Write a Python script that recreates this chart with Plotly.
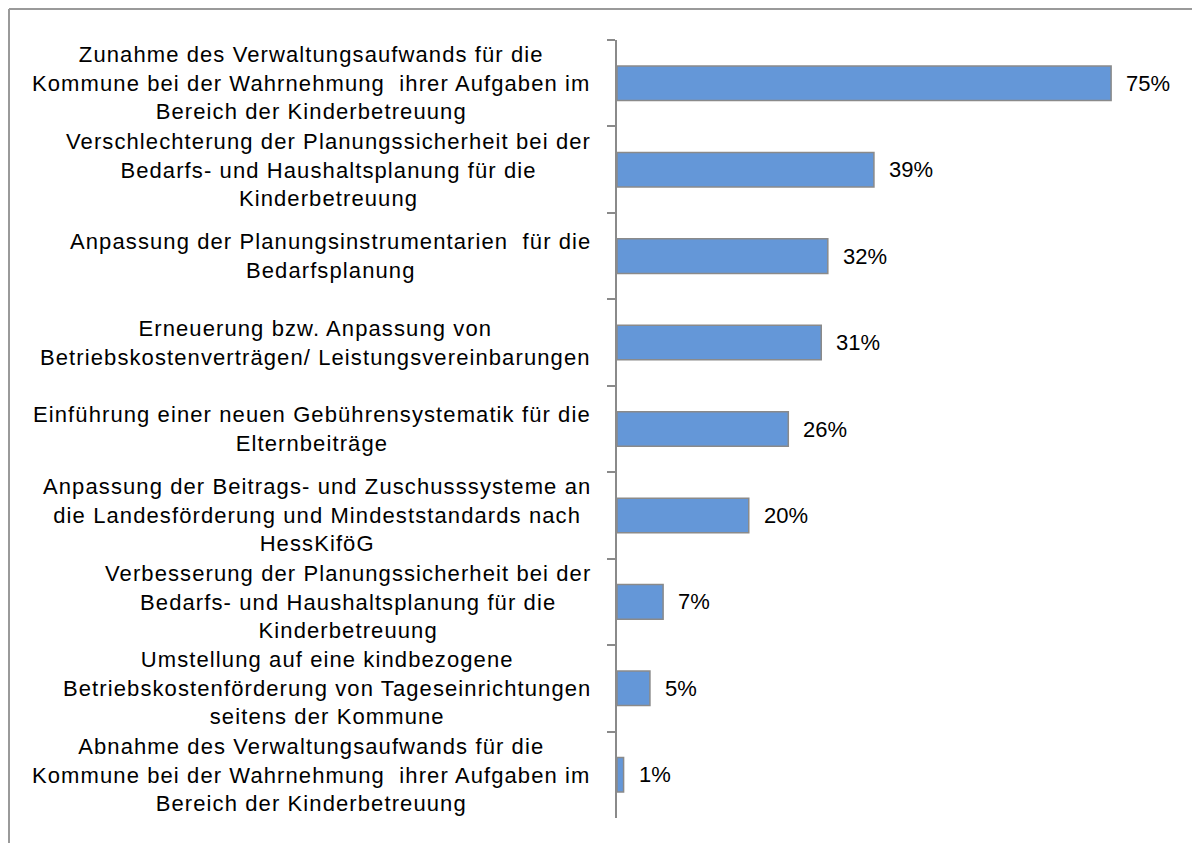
import plotly.graph_objects as go

categories = [
    "Zunahme des Verwaltungsaufwands für die<br>Kommune bei der Wahrnehmung  ihrer Aufgaben im<br>Bereich der Kinderbetreuung",
    "Verschlechterung der Planungssicherheit bei der<br>Bedarfs- und Haushaltsplanung für die<br>Kinderbetreuung",
    "Anpassung der Planungsinstrumentarien  für die<br>Bedarfsplanung",
    "Erneuerung bzw. Anpassung von<br>Betriebskostenverträgen/ Leistungsvereinbarungen",
    "Einführung einer neuen Gebührensystematik für die<br>Elternbeiträge",
    "Anpassung der Beitrags- und Zuschusssysteme an<br>die Landesförderung und Mindeststandards nach<br>HessKiföG",
    "Verbesserung der Planungssicherheit bei der<br>Bedarfs- und Haushaltsplanung für die<br>Kinderbetreuung",
    "Umstellung auf eine kindbezogene<br>Betriebskostenförderung von Tageseinrichtungen<br>seitens der Kommune",
    "Abnahme des Verwaltungsaufwands für die<br>Kommune bei der Wahrnehmung  ihrer Aufgaben im<br>Bereich der Kinderbetreuung",
]
values = [75, 39, 32, 31, 26, 20, 7, 5, 1]
value_labels = ["75%", "39%", "32%", "31%", "26%", "20%", "7%", "5%", "1%"]

W, H = 1200, 843
L, R, T, B = 609, 31, 32, 33
FONT = "Liberation Sans, Arial, sans-serif"
SP = "letter-spacing:1.1px"

ids = [str(i) for i in range(len(categories))]

fig = go.Figure()
fig.add_trace(go.Bar(
    x=values, y=ids, orientation="h",
    marker=dict(color="#6497D8", line=dict(color="#8A8A8A", width=1.5)),
    hoverinfo="skip",
))

for cid, lab in zip(ids, categories):
    lines = lab.split("<br>")
    txt = "<br>".join(f'<span style="{SP}">{ln}</span>' for ln in lines)
    fig.add_annotation(
        x=0, y=cid, xref="x", yref="y", text=txt, showarrow=False,
        xanchor="right", yanchor="middle", align="center", xshift=-24,
        font=dict(family=FONT, size=22, color="#000000"),
    )

for cid, v, vl in zip(ids, values, value_labels):
    fig.add_annotation(
        x=v, y=cid, xref="x", yref="y", text=vl, showarrow=False,
        xanchor="left", yanchor="middle", xshift=13,
        font=dict(family=FONT, size=22, color="#000000"),
    )

pw = W - L - R
ph = H - T - B
# outer border (top and left)
fig.add_shape(type="line", xref="paper", yref="paper",
              x0=(1 - L) / pw, x1=(W + 10 - L) / pw,
              y0=1 + (T - 1) / ph, y1=1 + (T - 1) / ph,
              line=dict(color="#9A9A9A", width=2))
fig.add_shape(type="line", xref="paper", yref="paper",
              x0=(1 - L) / pw, x1=(1 - L) / pw,
              y0=1 + (T - 1) / ph, y1=-(B + 10) / ph,
              line=dict(color="#9A9A9A", width=2))

fig.update_layout(
    width=W, height=H,
    margin=dict(l=L, r=R, t=T, b=B),
    paper_bgcolor="white", plot_bgcolor="white",
    showlegend=False, bargap=0.6,
    xaxis=dict(range=[0, 85], visible=False, fixedrange=True),
    yaxis=dict(
        type="category", autorange="reversed", showticklabels=False,
        showline=True, linecolor="#8A8A8A", linewidth=1.5,
        ticks="outside", ticklen=8, tickcolor="#8A8A8A", tickwidth=1.5,
        tickson="boundaries", showgrid=False, zeroline=False,
    ),
)

fig.write_html("out.html")
